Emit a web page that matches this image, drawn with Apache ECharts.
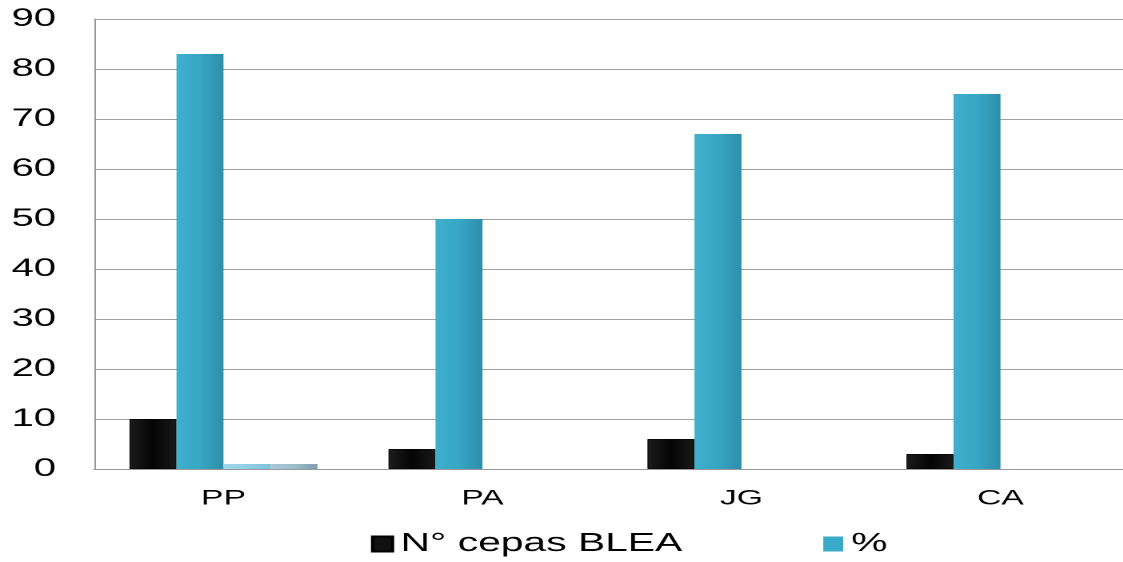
<!DOCTYPE html>
<html><head><meta charset="utf-8">
<script src="https://cdn.jsdelivr.net/npm/echarts@6/dist/echarts.min.js"></script>
<style>
html,body{margin:0;padding:0;background:#fff;overflow:hidden;width:1123px;height:562px;}
#c{width:710px;height:562px;transform:scaleX(1.6);transform-origin:0 0;}
</style>
</head><body><div id="c"></div>
<script>
const categories = ['PP', 'PA', 'JG', 'CA'];
const cepas = [10, 4, 6, 3];
const pct = [83, 50, 67, 75];
const extra1 = [1, null, null, null];
const extra2 = [1, null, null, null];
const yTicks = [0, 10, 20, 30, 40, 50, 60, 70, 80, 90];

const SX = 1.6; // horizontal stretch of the original picture
const chart = echarts.init(document.getElementById('c'), null, {devicePixelRatio: 2});
const grad = (a, b, c) => ({type: 'linear', x: 0, y: 0, x2: 1, y2: 0,
  colorStops: [{offset: 0, color: a}, {offset: 0.5, color: b}, {offset: 1, color: c}]});
chart.setOption({
  animation: false,
  textStyle: {fontFamily: 'Liberation Sans'},
  grid: {left: 94 / SX, top: 19, width: 1036 / SX, height: 450, outerBoundsMode: 'none'},
  legend: {
    data: [{name: 'N° cepas BLEA', itemStyle: {color: '#111'}}, {name: '%', itemStyle: {color: '#3aaac8'}}],
    top: 531, left: 371 / SX, padding: 0, itemWidth: 20 / SX, itemHeight: 15, itemGap: 141 / SX, icon: 'rect',
    textStyle: {fontSize: 25.5, color: '#000', fontFamily: 'Liberation Sans'}
  },
  xAxis: {
    type: 'category', data: categories,
    axisTick: {show: false},
    axisLine: {lineStyle: {color: '#999'}},
    axisLabel: {fontSize: 21, color: '#000', margin: 19}
  },
  yAxis: {
    type: 'value', min: 0, max: 90, interval: 10,
    axisLine: {show: true, lineStyle: {color: '#999'}},
    axisTick: {show: false},
    splitLine: {lineStyle: {color: '#a0a0a0', width: 1}},
    axisLabel: {fontSize: 25, color: '#000', margin: 38 / SX,
      formatter: v => yTicks.includes(v) ? String(v) : ''}
  },
  series: [
    {name: 'N° cepas BLEA', type: 'bar', data: cepas, barWidth: 47 / SX, barGap: '0%',
      itemStyle: {color: grad('#1c1c1c', '#050505', '#1a1a1a'), borderColor: '#000', borderWidth: 0.5}},
    {name: '%', type: 'bar', data: pct, barWidth: 47 / SX,
      itemStyle: {color: grad('#3fb0cd', '#38a6c4', '#2e8fab')}},
    {name: 'extra1', type: 'bar', data: extra1, barWidth: 47 / SX,
      itemStyle: {color: grad('#9fd8ea', '#8fd0e4', '#7fc2d8')}},
    {name: 'extra2', type: 'bar', data: extra2, barWidth: 47 / SX,
      itemStyle: {color: grad('#abc9d6', '#9cbdcc', '#7f9eae')}}
  ]
});
</script></body></html>
